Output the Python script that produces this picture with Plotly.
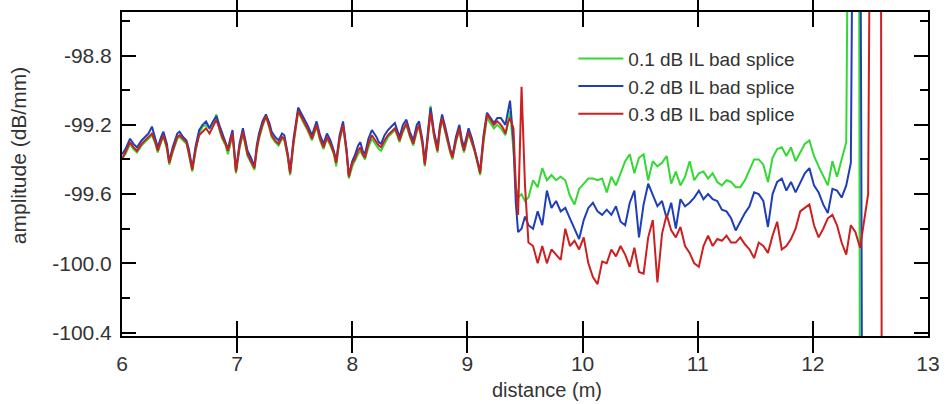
import plotly.graph_objects as go

# ---------------- data ----------------
dist_pre = [
    6.00, 6.03, 6.07, 6.10, 6.13, 6.17, 6.20, 6.23, 6.26, 6.29,
    6.31, 6.34, 6.36, 6.39, 6.41, 6.44, 6.46, 6.48, 6.50, 6.53,
    6.56, 6.58, 6.61, 6.64, 6.67, 6.70, 6.73, 6.76, 6.79, 6.82,
    6.85, 6.87, 6.90, 6.92, 6.94, 6.96, 6.99, 7.02, 7.05, 7.07,
    7.09, 7.12, 7.15, 7.17, 7.19, 7.22, 7.25, 7.28, 7.30, 7.33,
    7.36, 7.39, 7.41, 7.44, 7.46, 7.49, 7.53, 7.57, 7.61, 7.65,
    7.69, 7.72, 7.75, 7.78, 7.81, 7.84, 7.86, 7.89, 7.92, 7.95,
    7.97, 8.00, 8.02, 8.05, 8.07, 8.09, 8.11, 8.14, 8.17, 8.19,
    8.21, 8.23, 8.25, 8.28, 8.31, 8.34, 8.37, 8.39, 8.41, 8.44,
    8.47, 8.50, 8.53, 8.56, 8.58, 8.61, 8.63, 8.66, 8.68, 8.71,
    8.74, 8.76, 8.78, 8.81, 8.83, 8.85, 8.87, 8.90, 8.93, 8.95,
    8.97, 8.99, 9.01, 9.04, 9.06, 9.09, 9.11, 9.14, 9.17, 9.20,
    9.23, 9.26, 9.29, 9.31, 9.33, 9.35, 9.37,
]

green_pre = [
    -99.39, -99.37, -99.31, -99.34, -99.36, -99.32, -99.30, -99.28, -99.26, -99.31,
    -99.36, -99.30, -99.27, -99.34, -99.43, -99.36, -99.32, -99.28, -99.27, -99.29,
    -99.31, -99.37, -99.47, -99.35, -99.25, -99.21, -99.20, -99.22, -99.19, -99.14,
    -99.24, -99.28, -99.32, -99.37, -99.31, -99.26, -99.48, -99.34, -99.25, -99.31,
    -99.38, -99.42, -99.46, -99.35, -99.28, -99.21, -99.15, -99.22, -99.27, -99.30,
    -99.32, -99.28, -99.29, -99.39, -99.49, -99.31, -99.12, -99.18, -99.23, -99.29,
    -99.21, -99.29, -99.34, -99.28, -99.32, -99.37, -99.44, -99.29, -99.21, -99.36,
    -99.51, -99.44, -99.41, -99.37, -99.35, -99.38, -99.40, -99.33, -99.28, -99.30,
    -99.32, -99.34, -99.35, -99.31, -99.27, -99.25, -99.23, -99.26, -99.30, -99.24,
    -99.20, -99.27, -99.32, -99.24, -99.21, -99.32, -99.44, -99.24, -99.09, -99.27,
    -99.36, -99.24, -99.17, -99.25, -99.31, -99.36, -99.40, -99.30, -99.23, -99.31,
    -99.36, -99.30, -99.25, -99.31, -99.35, -99.43, -99.49, -99.30, -99.16, -99.19,
    -99.22, -99.20, -99.22, -99.24, -99.26, -99.20, -99.12,
]

blue_pre = [
    -99.37, -99.34, -99.28, -99.31, -99.33, -99.29, -99.27, -99.25, -99.21, -99.28,
    -99.33, -99.27, -99.24, -99.31, -99.41, -99.33, -99.29, -99.25, -99.24, -99.27,
    -99.29, -99.34, -99.45, -99.32, -99.23, -99.20, -99.18, -99.22, -99.18, -99.15,
    -99.21, -99.25, -99.30, -99.34, -99.28, -99.23, -99.46, -99.31, -99.22, -99.28,
    -99.35, -99.39, -99.44, -99.32, -99.25, -99.18, -99.14, -99.19, -99.24, -99.27,
    -99.29, -99.25, -99.26, -99.37, -99.47, -99.28, -99.10, -99.15, -99.20, -99.26,
    -99.18, -99.26, -99.31, -99.25, -99.29, -99.35, -99.41, -99.26, -99.18, -99.34,
    -99.49, -99.41, -99.38, -99.32, -99.30, -99.35, -99.37, -99.28, -99.23, -99.25,
    -99.27, -99.30, -99.31, -99.26, -99.23, -99.21, -99.19, -99.23, -99.27, -99.20,
    -99.17, -99.24, -99.29, -99.20, -99.18, -99.29, -99.42, -99.22, -99.10, -99.24,
    -99.33, -99.21, -99.14, -99.22, -99.28, -99.34, -99.38, -99.27, -99.20, -99.28,
    -99.33, -99.27, -99.22, -99.28, -99.33, -99.41, -99.47, -99.26, -99.13, -99.16,
    -99.19, -99.16, -99.16, -99.18, -99.20, -99.13, -99.06,
]

red_pre = [
    -99.40, -99.36, -99.30, -99.33, -99.35, -99.31, -99.29, -99.27, -99.25, -99.30,
    -99.35, -99.29, -99.26, -99.33, -99.42, -99.35, -99.31, -99.27, -99.26, -99.28,
    -99.30, -99.36, -99.46, -99.34, -99.26, -99.24, -99.22, -99.25, -99.21, -99.17,
    -99.23, -99.27, -99.31, -99.35, -99.30, -99.25, -99.47, -99.33, -99.24, -99.30,
    -99.37, -99.41, -99.45, -99.34, -99.27, -99.20, -99.15, -99.21, -99.26, -99.29,
    -99.31, -99.27, -99.28, -99.38, -99.48, -99.30, -99.12, -99.17, -99.22, -99.28,
    -99.20, -99.28, -99.33, -99.27, -99.31, -99.36, -99.42, -99.28, -99.20, -99.35,
    -99.50, -99.42, -99.40, -99.35, -99.33, -99.37, -99.39, -99.31, -99.26, -99.28,
    -99.30, -99.32, -99.33, -99.29, -99.26, -99.24, -99.22, -99.25, -99.29, -99.23,
    -99.19, -99.26, -99.31, -99.23, -99.20, -99.31, -99.43, -99.25, -99.13, -99.26,
    -99.35, -99.23, -99.16, -99.24, -99.30, -99.35, -99.39, -99.29, -99.22, -99.30,
    -99.35, -99.29, -99.24, -99.30, -99.34, -99.42, -99.48, -99.28, -99.14, -99.17,
    -99.20, -99.18, -99.20, -99.22, -99.25, -99.19, -99.16,
]

dist_post = [
    9.40, 9.42, 9.44, 9.47, 9.50,
    9.53, 9.57, 9.61, 9.65, 9.69, 9.73, 9.77, 9.81, 9.85, 9.89,
    9.93, 9.97, 10.01, 10.05, 10.09, 10.13, 10.17, 10.21, 10.25, 10.29,
    10.33, 10.37, 10.41, 10.45, 10.49, 10.53, 10.57, 10.61, 10.65, 10.69,
    10.73, 10.77, 10.81, 10.85, 10.89, 10.93, 10.97, 11.01, 11.05, 11.09,
    11.13, 11.17, 11.21, 11.25, 11.29, 11.33, 11.37, 11.41, 11.45, 11.49,
    11.53, 11.57, 11.61, 11.65, 11.69, 11.73, 11.77, 11.81, 11.85, 11.89,
    11.93, 11.97, 12.01, 12.05, 12.09, 12.13, 12.17, 12.21, 12.25, 12.29,
]

green_post = [
    -99.35, -99.55, -99.62, -99.60, -99.64,
    -99.62, -99.52, -99.56, -99.45, -99.52, -99.49, -99.52, -99.50, -99.52, -99.61,
    -99.66, -99.57, -99.54, -99.51, -99.51, -99.52, -99.51, -99.59, -99.50, -99.55,
    -99.48, -99.41, -99.37, -99.48, -99.39, -99.37, -99.52, -99.41, -99.44, -99.42,
    -99.38, -99.54, -99.47, -99.55, -99.50, -99.41, -99.52, -99.48, -99.47, -99.51,
    -99.48, -99.53, -99.55, -99.52, -99.53, -99.56, -99.56, -99.52, -99.46, -99.40,
    -99.40, -99.43, -99.53, -99.39, -99.34, -99.33, -99.38, -99.33, -99.41, -99.36,
    -99.31, -99.29, -99.38, -99.44, -99.50, -99.55, -99.41, -99.50, -99.40, -99.30,
]

blue_post = [
    -99.30, -99.65, -99.82, -99.80, -99.73,
    -99.78, -99.80, -99.70, -99.78, -99.58, -99.68, -99.64, -99.70, -99.68, -99.74,
    -99.80, -99.86, -99.75, -99.68, -99.65, -99.70, -99.72, -99.69, -99.72, -99.67,
    -99.76, -99.78, -99.65, -99.58, -99.85, -99.66, -99.54, -99.60, -99.67, -99.64,
    -99.74, -99.65, -99.80, -99.63, -99.67, -99.65, -99.62, -99.58, -99.63, -99.60,
    -99.63, -99.64, -99.69, -99.70, -99.74, -99.81, -99.76, -99.71, -99.67, -99.59,
    -99.60, -99.64, -99.79, -99.60, -99.53, -99.51, -99.58, -99.53, -99.59, -99.53,
    -99.48, -99.45, -99.55, -99.59, -99.66, -99.71, -99.57, -99.58, -99.62, -99.55,
]

red_post = [
    -99.22, -99.55, -99.72, -98.98, -99.55,
    -99.88, -99.90, -100.00, -99.90, -100.00, -99.92, -99.95, -99.98, -99.80, -99.90,
    -99.87, -99.92, -99.85, -100.00, -100.08, -100.12, -99.99, -100.00, -99.92, -99.96,
    -99.90, -99.95, -100.02, -99.91, -100.05, -100.06, -99.85, -99.75, -100.11, -99.83,
    -99.72, -99.81, -99.85, -99.79, -99.90, -99.94, -100.00, -100.02, -99.90, -99.84,
    -99.90, -99.86, -99.87, -99.84, -99.88, -99.88, -99.85, -99.89, -99.92, -99.97,
    -99.88, -99.90, -99.94, -99.84, -99.76, -99.92, -99.90, -99.86, -99.80, -99.70,
    -99.68, -99.66, -99.78, -99.85, -99.80, -99.74, -99.72, -99.78, -99.88, -99.95,
]

# end of fibre: spikes running off the plotted range
green_tail_dist = [12.31, 12.40, 12.41]
green_tail_amp = [-97.5, -97.5, -101.5]
blue_tail_dist = [12.33, 12.35, 12.41, 12.42, 12.43]
blue_tail_amp = [-99.42, -97.5, -97.5, -99.20, -101.5]
red_tail_dist = [12.33, 12.37, 12.41, 12.45, 12.48, 12.50, 12.59, 12.60]
red_tail_amp = [-99.78, -99.82, -99.91, -99.72, -99.60, -97.5, -97.5, -101.5]

series_names = ["0.1 dB IL bad splice", "0.2 dB IL bad splice", "0.3 dB IL bad splice"]
series_colors = ["#33d933", "#1f3fb8", "#cc2020"]

y_tick_vals = [-98.8, -99.2, -99.6, -100.0, -100.4]
y_tick_text = ["-98.8", "-99.2", "-99.6", "-100.0", "-100.4"]
y_minor_vals = [-98.6, -99.0, -99.4, -99.8, -100.2]
x_tick_vals = [6, 7, 8, 9, 10, 11, 12, 13]

x_title = "distance (m)"
y_title = "amplitude (dB/mm)"

# ---------------- figure ----------------
series = [
    (dist_pre + dist_post + green_tail_dist, green_pre + green_post + green_tail_amp),
    (dist_pre + dist_post + blue_tail_dist, blue_pre + blue_post + blue_tail_amp),
    (dist_pre + dist_post + red_tail_dist, red_pre + red_post + red_tail_amp),
]

fig = go.Figure()
# empty helper trace so that the minor-tick overlay axis is rendered
fig.add_trace(go.Scatter(x=[], y=[], yaxis="y2", showlegend=False, hoverinfo="skip"))
for (xs, ys), name, color in zip(series, series_names, series_colors):
    assert len(xs) == len(ys), (name, len(xs), len(ys))
    fig.add_trace(go.Scatter(
        x=xs, y=ys, mode="lines", name=name,
        line=dict(color=color, width=2),
    ))

font_family = "Liberation Sans, Arial, sans-serif"
axis_color = "black"
text_color = "#333333"
y_range = [-100.42, -98.548]

fig.update_layout(
    width=950, height=404,
    margin=dict(l=122, r=14, t=10, b=68),
    paper_bgcolor="white", plot_bgcolor="white",
    font=dict(family=font_family, size=21, color=text_color),
    showlegend=True,
    legend=dict(
        x=0.560, y=0.915, xanchor="left", yanchor="top",
        bgcolor="rgba(255,255,255,0)", borderwidth=0,
        font=dict(family=font_family, size=19, color=text_color),
        itemwidth=45,
    ),
    xaxis=dict(
        range=[6, 13], tickmode="array", tickvals=x_tick_vals,
        ticks="inside", ticklen=15, tickwidth=2, tickcolor=axis_color,
        showline=True, linecolor=axis_color, linewidth=2, mirror="allticks",
        showgrid=False, zeroline=False,
        ticklabelstandoff=8,
        tickfont=dict(family=font_family, size=21, color=text_color),
    ),
    yaxis=dict(
        range=y_range, tickmode="array",
        tickvals=y_tick_vals, ticktext=y_tick_text,
        ticks="inside", ticklen=14, tickwidth=2, tickcolor=axis_color,
        showline=True, linecolor=axis_color, linewidth=2, mirror="allticks",
        showgrid=False, zeroline=False,
        ticklabelstandoff=4,
        tickfont=dict(family=font_family, size=21, color=text_color),
    ),
    yaxis2=dict(
        range=y_range, overlaying="y", side="left", anchor="x",
        tickmode="array", tickvals=y_minor_vals, showticklabels=False,
        ticks="inside", ticklen=8, tickwidth=2, tickcolor=axis_color,
        showline=True, linecolor=axis_color, linewidth=2, mirror="allticks",
        showgrid=False, zeroline=False,
    ),
    annotations=[
        dict(text=x_title, xref="paper", yref="paper", x=0.527, y=-0.166,
             xanchor="center", yanchor="middle", showarrow=False,
             font=dict(family=font_family, size=20, color=text_color)),
        dict(text=y_title, xref="paper", yref="paper", x=-0.129, y=0.555,
             xanchor="center", yanchor="middle", textangle=-90, showarrow=False,
             font=dict(family=font_family, size=21, color=text_color)),
    ],
)

fig.write_html("out.html")
